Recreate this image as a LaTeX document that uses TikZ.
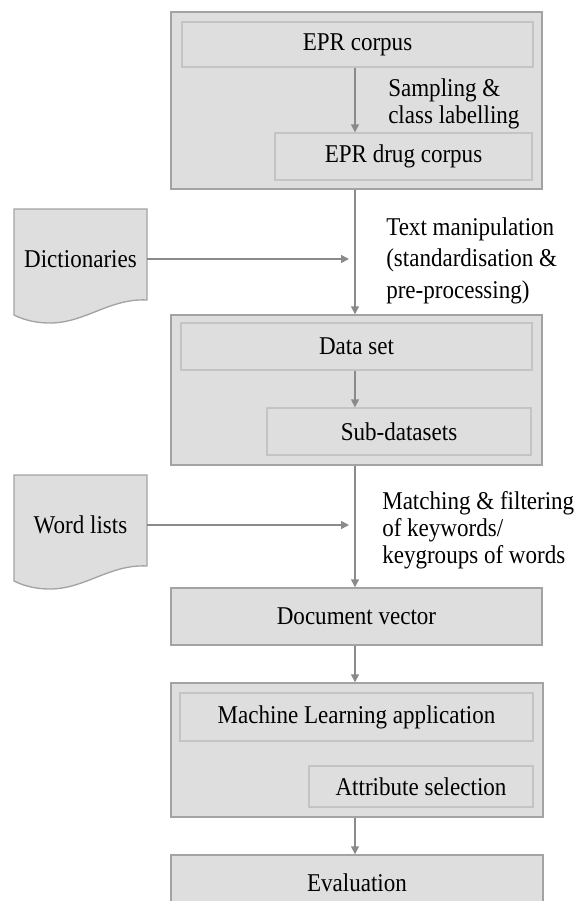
\documentclass[tikz,border=0pt]{standalone}
\usepackage{fontspec}
\setmainfont{Liberation Serif}[FakeStretch=0.9]
\usetikzlibrary{fit}
\usetikzlibrary{arrows.meta}
\definecolor{boxfill}{HTML}{DEDEDE}
\definecolor{outerline}{HTML}{A3A3A3}
\definecolor{innerline}{HTML}{C4C4C4}
\definecolor{arrowgray}{HTML}{8A8A8A}

\begin{document}
\begin{tikzpicture}[x=0.75pt,y=-0.75pt,font=\fontsize{19.2}{20.25}\selectfont]
\tikzstyle{group} = [rectangle, draw=outerline, line width=1.1pt, fill=boxfill, inner sep=0]
\tikzstyle{block} = [rectangle, draw=innerline, line width=1pt, fill=boxfill, inner sep=0]
\tikzstyle{doc} = [draw=outerline, line width=1pt, fill=boxfill]
\tikzstyle{note} = [align=left, anchor=north west, inner sep=0]
\tikzstyle{line} = [draw=arrowgray, line width=1.1pt, -{Triangle[length=6pt,width=6pt]}]
\clip (0,0) rectangle (576,901);
\coordinate (spine) at (355,0);
% corpus
\node [group, fit={(171,12) (542,189)}] (corpusgrp) {};
\node [block, fit={(182,22) (533,67)}, label=center:EPR corpus] (epr) {};
\node [block, fit={(275,133) (532,180)}, label=center:EPR drug corpus] (drug) {};
\node [note] (samplbl) at (388,78) {Sampling \&\\class labelling};
% data set
\node [group, fit={(171,315) (542,465)}] (datagrp) {};
\node [block, fit={(181,323) (532,370)}, label=center:Data set] (dataset) {};
\node [block, fit={(267,408) (531,455)}, label=center:Sub-datasets] (subsets) {};
\node [note] (manlbl) at (386,217) {Text manipulation\\[3.5pt](standardisation \&\\[3.5pt]pre-processing)};
% documents
\foreach \y/\name/\txt in {209/dict/Dictionaries, 475/words/Word lists} {
  \draw [doc, shift={(0,\y)}] (14,0) -- (147,0) -- (147,91)
    .. controls (110,89) and (85,114) .. (50,114)
    .. controls (32,114) and (20,109) .. (14,106) -- cycle;
  \node [inner sep=0, minimum width=99.75pt] (\name) at (80.5,\y+50) {\txt};
}
\node [note] (matchlbl) at (382,491) {Matching \& filtering\\of keywords/\\keygroups of words};
\node [group, fit={(171,588) (542,645)}, label=center:Document vector] (docvec) {};
% learning
\node [group, fit={(171,683) (543,817)}] (mlgrp) {};
\node [block, fit={(180,693) (533,741)}, label=center:Machine Learning application] (mlapp) {};
\node [block, fit={(309,766) (533,807)}, label=center:Attribute selection] (attrsel) {};
\node [group, fit={(171,855) (543,911)}, label=center:Evaluation] (eval) {};

\path [line] (epr.south -| spine) -- (drug.north -| spine);
\path [line] (corpusgrp.south -| spine) -- (datagrp.north -| spine);
\path [line] (dataset.south -| spine) -- (subsets.north -| spine);
\path [line] (datagrp.south -| spine) -- (docvec.north -| spine);
\path [line] (docvec.south -| spine) -- (mlgrp.north -| spine);
\path [line] (mlgrp.south -| spine) -- (eval.north -| spine);
\path [line, shorten >=4.5pt] (dict.east) -- (dict.east -| spine);
\path [line, shorten >=4.5pt] (words.east) -- (words.east -| spine);
\end{tikzpicture}
\end{document}
